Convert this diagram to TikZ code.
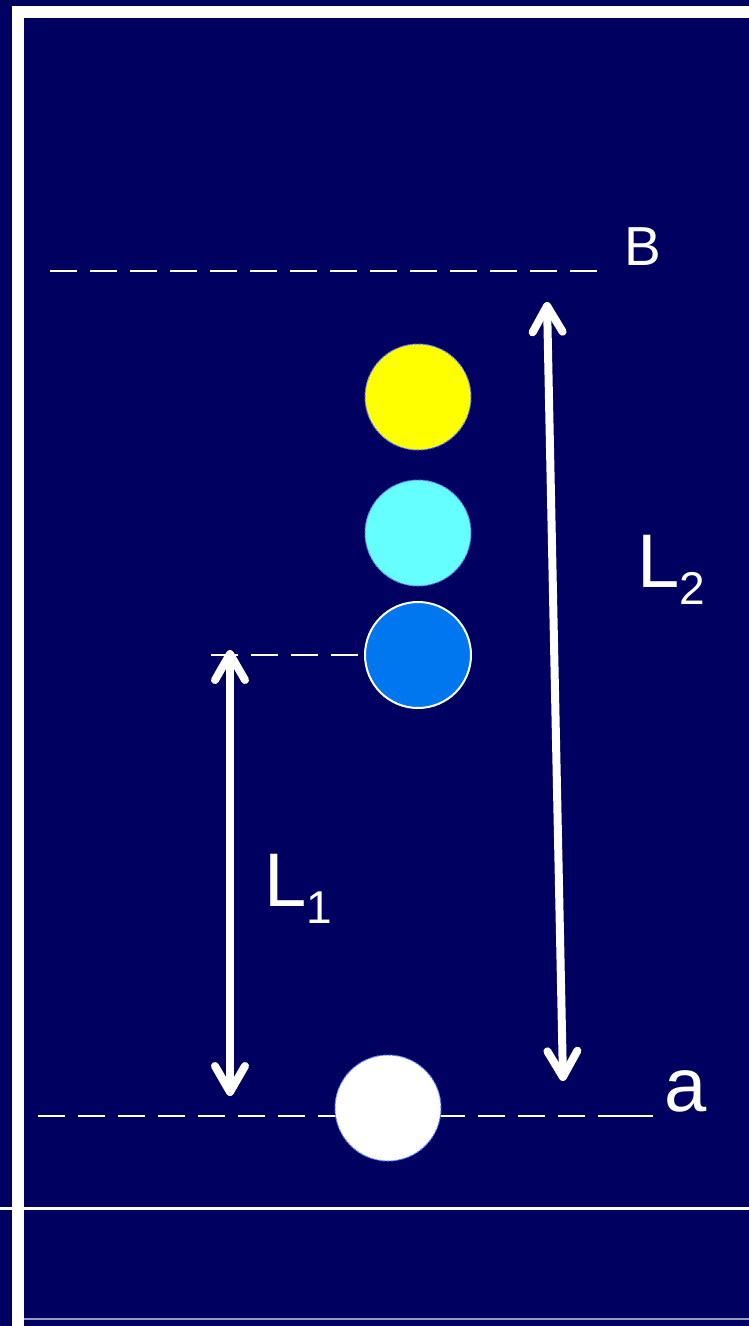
\documentclass[tikz,border=0pt]{standalone}
\usepackage{fontspec}
\setmainfont{Liberation Sans}
\usetikzlibrary{arrows.meta}
\definecolor{navy}{RGB}{0,0,96}
\definecolor{ballyellow}{RGB}{255,255,0}
\definecolor{ballcyan}{RGB}{102,255,255}
\definecolor{ballblue}{RGB}{0,119,238}
\definecolor{rimblue}{RGB}{96,128,255}
\newcommand{\lenlabel}[2]{{\fontsize{76}{76}\selectfont #1}\raisebox{-17pt}{\fontsize{46}{46}\selectfont #2}}
\tikzset{
  ball/.style={circle,inner sep=0pt,minimum size=106pt,draw=rimblue,line width=1pt,dash pattern=on 3pt off 1pt},
  level/.style={white,line width=2.8pt,dash pattern=on 27pt off 13pt},
  dimarrow/.style={white,line width=8pt,line cap=round,
    {Straight Barb[length=26pt,width=30pt,round]}-{Straight Barb[length=26pt,width=30pt,round]}},
  txt/.style={white,inner sep=0pt,anchor=base west}
}
\begin{document}
\begin{tikzpicture}[x=1pt,y=-1pt]
    \fill [navy] (0,0) rectangle (749,1326);
    \useasboundingbox (0,0) rectangle (749,1326);
    % frame
    \draw [white,line width=12pt] (18,1326) -- (18,12) -- (749,12);
    \draw [white,line width=3pt] (0,1208) -- (749,1208);
    \draw [white!60!navy,line width=1.2pt] (24,1319) -- (749,1319);
    % levels
    \coordinate (bleft) at (50,271);
    \coordinate (bright) at (598,271);
    \coordinate (aleft) at (38,1116);
    \coordinate (aright) at (653,1116);
    \coordinate (hleft) at (211,655);
    \coordinate (hright) at (365,655);
    \draw [level] (bleft) -- (bright);
    \draw [level] (aleft) -- (aright);
    \draw [white,line width=2.8pt] (598,1116) -- (aright);
    \draw [level] (hleft) -- (hright);
    % balls
    \node [ball,fill=ballyellow] (yel) at (418,397) {};
    \node [ball,fill=ballcyan] (cya) at (418,533) {};
    \node [ball,fill=ballblue,draw=white,line width=2pt,solid] (blu) at (418,655) {};
    \node [ball,fill=white] (wht) at (388,1108) {};
    % arrows
    \coordinate (lonetop) at (230,650);
    \coordinate (lonebot) at (230,1096);
    \coordinate (ltwotop) at (547,302);
    \coordinate (ltwobot) at (563,1081);
    \draw [dimarrow] (lonetop) -- (lonebot);
    \draw [dimarrow] (ltwotop) -- (ltwobot);
    % labels
    \node [txt] (lb) at (624,265) {\fontsize{55}{55}\selectfont B};
    \node [txt] (la) at (664,1111) {\fontsize{76}{76}\selectfont a};
    \node [txt] (lone) at (264,906) {\lenlabel{L}{1}};
    \node [txt] (ltwo) at (637,587) {\lenlabel{L}{2}};
\end{tikzpicture}
\end{document}
